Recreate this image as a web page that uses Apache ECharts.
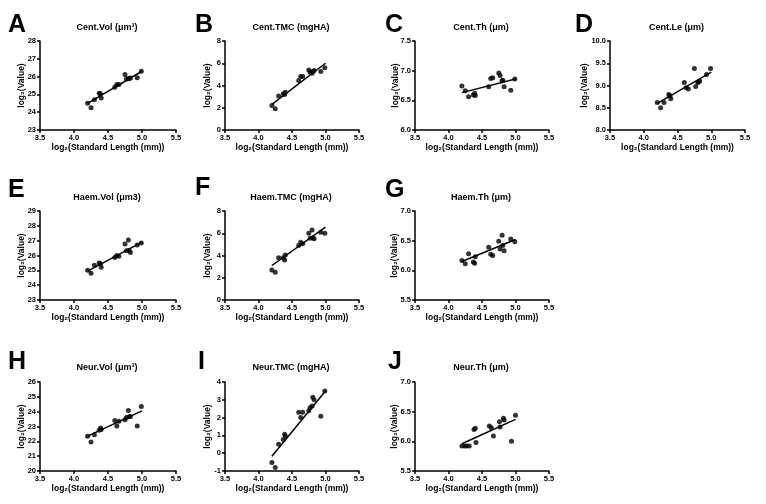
<!DOCTYPE html>
<html><head><meta charset="utf-8">
<script src="https://cdn.jsdelivr.net/npm/echarts@6/dist/echarts.min.js"></script>
<style>html,body{margin:0;padding:0;background:#fff}#c{width:766px;height:504px}</style>
</head><body><div id="c"></div>
<script>
// ---- data ----
const xLen = [4.20, 4.25, 4.30, 4.37, 4.39, 4.40, 4.60, 4.63, 4.66, 4.75, 4.77, 4.80, 4.81, 4.83, 4.93, 4.99];
const xLenJ = [4.20, 4.24, 4.27, 4.31, 4.38, 4.40, 4.41, 4.61, 4.64, 4.67, 4.76, 4.77, 4.82, 4.83, 4.94, 5.00];
const xTicks = ['3.5', '4.0', '4.5', '5.0', '5.5'];

const centVol = [24.5, 24.25, 24.7, 25.07, 25.03, 24.8, 25.4, 25.55, 25.55, 26.12, 25.86, 25.88, 25.9, 25.92, 25.93, 26.3];
const centTMC = [2.2, 1.9, 3.05, 3.25, 3.2, 3.4, 4.45, 4.8, 4.8, 5.4, 5.2, 5.1, 5.25, 5.35, 5.25, 5.6];
const centTh = [6.74, 6.66, 6.56, 6.59, 6.62, 6.58, 6.73, 6.87, 6.88, 6.96, 6.92, 6.83, 6.84, 6.73, 6.67, 6.86];
const centLe = [8.62, 8.5, 8.62, 8.8, 8.77, 8.7, 9.07, 8.95, 8.92, 9.38, 8.98, 9.07, 9.08, 9.1, 9.25, 9.38];
const haemVol = [25.0, 24.8, 25.35, 25.5, 25.45, 25.2, 25.87, 26.0, 25.95, 26.78, 26.32, 27.04, 26.35, 26.2, 26.7, 26.85];
const haemTMC = [2.7, 2.5, 3.8, 3.8, 3.6, 4.05, 4.9, 5.2, 5.05, 6.0, 5.55, 6.3, 5.6, 5.5, 6.1, 6.0];
const haemTh = [6.165, 6.11, 6.28, 6.14, 6.12, 6.23, 6.39, 6.27, 6.25, 6.49, 6.36, 6.59, 6.42, 6.33, 6.53, 6.48];
const neurVol = [22.35, 21.95, 22.45, 22.75, 22.9, 22.8, 23.4, 23.03, 23.35, 23.45, 23.6, 24.08, 23.65, 23.68, 23.03, 24.35];
const neurTMC = [-0.52, -0.8, 0.5, 0.77, 1.07, 0.96, 2.3, 2.0, 2.3, 2.38, 2.55, 2.65, 3.15, 3.0, 2.08, 3.5];
const neurTh = [5.92, 5.92, 5.92, 5.92, 6.2, 6.22, 5.98, 6.26, 6.23, 6.09, 6.33, 6.24, 6.39, 6.36, 6.0, 6.44];

const fitA = [[4.2, 24.5], [5.0, 26.3]];
const fitB = [[4.2, 2.3], [5.0, 6.0]];
const fitC = [[4.2, 6.63], [5.0, 6.86]];
const fitD = [[4.2, 8.6], [5.0, 9.3]];
const fitE = [[4.2, 24.95], [5.0, 26.9]];
const fitF = [[4.2, 3.1], [5.0, 6.55]];
const fitG = [[4.2, 6.15], [5.0, 6.52]];
const fitH = [[4.2, 22.35], [5.0, 24.05]];
const fitI = [[4.2, -0.17], [5.0, 3.5]];
const fitJ = [[4.2, 5.96], [5.0, 6.37]];

const panelLetters = ['A', 'B', 'C', 'D', 'E', 'F', 'G', 'H', 'I', 'J'];
const panelTitles = ['Cent.Vol (μm³)', 'Cent.TMC (mgHA)', 'Cent.Th (μm)', 'Cent.Le (μm)',
  'Haem.Vol (μm3)', 'Haem.TMC (mgHA)', 'Haem.Th (μm)',
  'Neur.Vol (μm³)', 'Neur.TMC (mgHA)', 'Neur.Th (μm)'];
const yRanges = [[23, 28, 1], [0, 8, 2], [6.0, 7.5, 0.5], [8.0, 10.0, 0.5],
  [23, 29, 1], [0, 8, 2], [5.5, 7.0, 0.5],
  [20, 26, 1], [-1, 4, 1], [5.5, 7.0, 0.5]];
const yDecimals = [0, 0, 1, 1, 0, 0, 1, 0, 0, 1];
const xName = 'log₂(Standard Length (mm))';
const yName = 'log₂(Value)';

// ---- layout ----
const rowTop = [41, 211, 382];
const colLeft = [40, 225, 415, 610];
const colWidth = [136, 134, 134, 135];
const panelPos = [[0,0],[0,1],[0,2],[0,3],[1,0],[1,1],[1,2],[2,0],[2,1],[2,2]];
const letterX = [8, 195, 385, 575, 8, 195, 385, 8, 198, 388];
const letterY = [25, 25, 25, 25, 190, 188, 190, 362, 362, 362];
const titleY = [28, 198, 368];
const yNameX = [22, 208, 396, 585, 22, 208, 395, 22, 208, 395];

const yVals = [centVol, centTMC, centTh, centLe, haemVol, haemTMC, haemTh, neurVol, neurTMC, neurTh];
const fits = [fitA, fitB, fitC, fitD, fitE, fitF, fitG, fitH, fitI, fitJ];

const FONT = 'Liberation Sans, Arial, sans-serif';
const grid = [], xAxis = [], yAxis = [], series = [], graphic = [];

panelPos.forEach(([r, c], i) => {
  const left = colLeft[c], width = colWidth[c], top = rowTop[r];
  grid.push({ left: left, top: top, width: width, height: 89 });
  xAxis.push({
    gridIndex: i, type: 'value', min: 3.5, max: 5.5, interval: 0.5,
    name: xName, nameLocation: 'middle', nameGap: 13,
    nameTextStyle: { fontFamily: FONT, fontSize: 8.5, fontWeight: 'bold', color: '#000' },
    axisLine: { onZero: false, lineStyle: { color: '#000', width: 1.5 } },
    axisTick: { show: true, length: 3, lineStyle: { color: '#000', width: 1.5 } },
    axisLabel: { margin: 4, fontFamily: FONT, fontSize: 7.5, fontWeight: 'bold', color: '#000',
      formatter: v => xTicks[Math.round((v - 3.5) / 0.5)] },
    splitLine: { show: false }
  });
  const [ymin, ymax, yint] = yRanges[i];
  const dec = yDecimals[i];
  yAxis.push({
    gridIndex: i, type: 'value', min: ymin, max: ymax, interval: yint,
    axisLine: { show: true, onZero: false, lineStyle: { color: '#000', width: 1.5 } },
    axisTick: { show: true, length: 3, lineStyle: { color: '#000', width: 1.5 } },
    axisLabel: { margin: 4, fontFamily: FONT, fontSize: 7.5, fontWeight: 'bold', color: '#000',
      formatter: v => v.toFixed(dec) },
    splitLine: { show: false }
  });
  const xs = i === 9 ? xLenJ : xLen;
  series.push({
    type: 'scatter', xAxisIndex: i, yAxisIndex: i, symbol: 'circle', symbolSize: 5,
    itemStyle: { color: '#000' }, data: xs.map((x, k) => [x, yVals[i][k]]), z: 3
  });
  series.push({
    type: 'line', xAxisIndex: i, yAxisIndex: i, showSymbol: false, symbol: 'none',
    lineStyle: { color: '#000', width: 1.5 }, data: fits[i], z: 2
  });
  graphic.push({
    type: 'text', x: letterX[i], y: letterY[i],
    style: { text: panelLetters[i], font: 'bold 25px ' + FONT, fill: '#000',
      textAlign: 'left', textVerticalAlign: 'middle' }
  });
  graphic.push({
    type: 'text', x: left + width / 2 - 1, y: titleY[r],
    style: { text: panelTitles[i], font: 'bold 9px ' + FONT, fill: '#000',
      textAlign: 'center', textVerticalAlign: 'middle' }
  });
  graphic.push({
    type: 'text', x: yNameX[i], y: top + 44.5, rotation: Math.PI / 2,
    style: { text: yName, font: 'bold 8.5px ' + FONT, fill: '#000',
      textAlign: 'center', textVerticalAlign: 'middle' }
  });
});

const chart = echarts.init(document.getElementById('c'), null, { renderer: 'canvas' });
chart.setOption({
  animation: false, backgroundColor: '#fff',
  grid, xAxis, yAxis, series, graphic
});
</script></body></html>
